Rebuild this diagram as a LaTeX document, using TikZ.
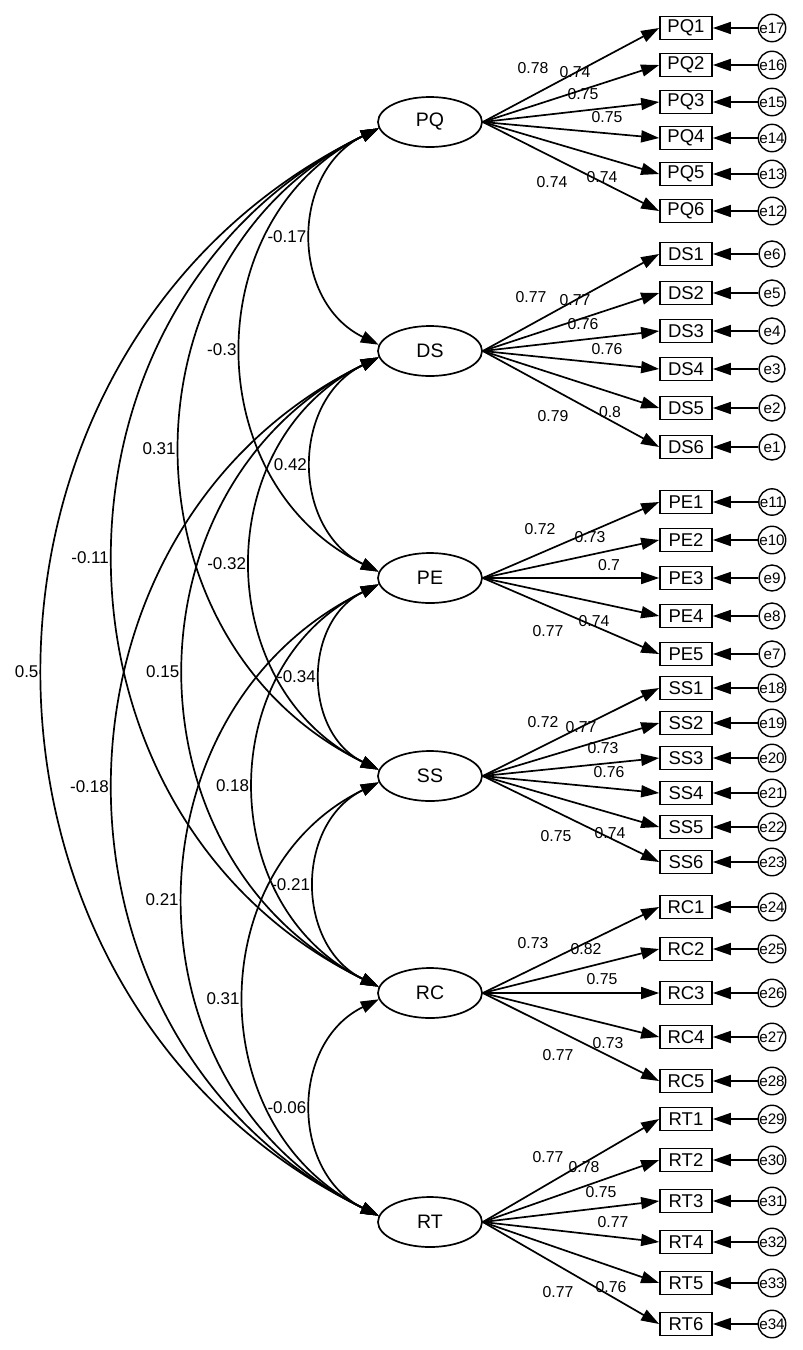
\documentclass[tikz,border=0pt]{standalone}
\usepackage{fontspec}
\setmainfont{Liberation Sans}
\usepackage{tikz}
\usetikzlibrary{arrows.meta,shapes.geometric}
\usepackage{xcolor}

\tikzset{
  lat/.style={ellipse, draw, line width=0.85pt, minimum width=52pt, minimum height=25pt, inner sep=0pt, font=\fontsize{9.75}{10}\selectfont},
  obs/.style={rectangle, draw, line width=0.85pt, minimum width=26pt, minimum height=11.5pt, inner sep=0pt, font=\fontsize{9.25}{9.5}\selectfont},
  err/.style={circle, draw, line width=0.7pt, minimum size=13pt, inner sep=0pt, font=\fontsize{7.6}{7.6}\selectfont},
  ld/.style={inner sep=0pt, font=\fontsize{7.9}{8}\selectfont},
  cl/.style={inner sep=2.5pt, font=\fontsize{8.5}{8.5}\selectfont},
  ldarr/.style={line width=0.85pt, -{Triangle[length=9pt,width=6pt]}},
  covarr/.style={line width=0.85pt, {Triangle[length=9pt,width=6pt]}-{Triangle[length=9pt,width=6pt]}},
  bow/.style={out=206, in=154, looseness=1.17}
}

\begin{document}
\begin{tikzpicture}[x=0.5pt, y=-0.5pt]
        \useasboundingbox (0,0) rectangle (803,1350);

        % latent factors
        \node[lat] (PQ) at (430,122) {PQ};
        \node[lat] (DS) at (430,351) {DS};
        \node[lat] (PE) at (430,578) {PE};
        \node[lat] (SS) at (430,776) {SS};
        \node[lat] (RC) at (430,993) {RC};
        \node[lat] (RT) at (430,1222) {RT};

        % PQ items
        \node[obs] (PQ1) at (686,28) {PQ1};
        \node[obs] (PQ2) at (686,65) {PQ2};
        \node[obs] (PQ3) at (686,102) {PQ3};
        \node[obs] (PQ4) at (686,138) {PQ4};
        \node[obs] (PQ5) at (686,174) {PQ5};
        \node[obs] (PQ6) at (686,211) {PQ6};
        \node[err] (e17) at (772,28) {e17};
        \node[err] (e16) at (772,65) {e16};
        \node[err] (e15) at (772,102) {e15};
        \node[err] (e14) at (772,138) {e14};
        \node[err] (e13) at (772,174) {e13};
        \node[err] (e12) at (772,211) {e12};

        % DS items
        \node[obs] (DS1) at (686,254) {DS1};
        \node[obs] (DS2) at (686,293) {DS2};
        \node[obs] (DS3) at (686,331) {DS3};
        \node[obs] (DS4) at (686,369) {DS4};
        \node[obs] (DS5) at (686,408) {DS5};
        \node[obs] (DS6) at (686,447) {DS6};
        \node[err] (e6) at (772,254) {e6};
        \node[err] (e5) at (772,293) {e5};
        \node[err] (e4) at (772,331) {e4};
        \node[err] (e3) at (772,369) {e3};
        \node[err] (e2) at (772,408) {e2};
        \node[err] (e1) at (772,447) {e1};

        % PE items
        \node[obs] (PE1) at (686,502) {PE1};
        \node[obs] (PE2) at (686,540) {PE2};
        \node[obs] (PE3) at (686,578) {PE3};
        \node[obs] (PE4) at (686,616) {PE4};
        \node[obs] (PE5) at (686,654) {PE5};
        \node[err] (e11) at (772,502) {e11};
        \node[err] (e10) at (772,540) {e10};
        \node[err] (e9) at (772,578) {e9};
        \node[err] (e8) at (772,616) {e8};
        \node[err] (e7) at (772,654) {e7};

        % SS items
        \node[obs] (SS1) at (686,688) {SS1};
        \node[obs] (SS2) at (686,723) {SS2};
        \node[obs] (SS3) at (686,758) {SS3};
        \node[obs] (SS4) at (686,793) {SS4};
        \node[obs] (SS5) at (686,827) {SS5};
        \node[obs] (SS6) at (686,862) {SS6};
        \node[err] (e18) at (772,688) {e18};
        \node[err] (e19) at (772,723) {e19};
        \node[err] (e20) at (772,758) {e20};
        \node[err] (e21) at (772,793) {e21};
        \node[err] (e22) at (772,827) {e22};
        \node[err] (e23) at (772,862) {e23};

        % RC items
        \node[obs] (RC1) at (686,907) {RC1};
        \node[obs] (RC2) at (686,949) {RC2};
        \node[obs] (RC3) at (686,993) {RC3};
        \node[obs] (RC4) at (686,1037) {RC4};
        \node[obs] (RC5) at (686,1081) {RC5};
        \node[err] (e24) at (772,907) {e24};
        \node[err] (e25) at (772,949) {e25};
        \node[err] (e26) at (772,993) {e26};
        \node[err] (e27) at (772,1037) {e27};
        \node[err] (e28) at (772,1081) {e28};

        % RT items
        \node[obs] (RT1) at (686,1119) {RT1};
        \node[obs] (RT2) at (686,1160) {RT2};
        \node[obs] (RT3) at (686,1201) {RT3};
        \node[obs] (RT4) at (686,1242) {RT4};
        \node[obs] (RT5) at (686,1283) {RT5};
        \node[obs] (RT6) at (686,1324) {RT6};
        \node[err] (e29) at (772,1119) {e29};
        \node[err] (e30) at (772,1160) {e30};
        \node[err] (e31) at (772,1201) {e31};
        \node[err] (e32) at (772,1242) {e32};
        \node[err] (e33) at (772,1283) {e33};
        \node[err] (e34) at (772,1324) {e34};

        % loadings
        \draw[ldarr] (PQ.east) -- (PQ1.west);
        \draw[ldarr] (PQ.east) -- (PQ2.west);
        \draw[ldarr] (PQ.east) -- (PQ3.west);
        \draw[ldarr] (PQ.east) -- (PQ4.west);
        \draw[ldarr] (PQ.east) -- (PQ5.west);
        \draw[ldarr] (PQ.east) -- (PQ6.west);
        \draw[ldarr] (DS.east) -- (DS1.west);
        \draw[ldarr] (DS.east) -- (DS2.west);
        \draw[ldarr] (DS.east) -- (DS3.west);
        \draw[ldarr] (DS.east) -- (DS4.west);
        \draw[ldarr] (DS.east) -- (DS5.west);
        \draw[ldarr] (DS.east) -- (DS6.west);
        \draw[ldarr] (PE.east) -- (PE1.west);
        \draw[ldarr] (PE.east) -- (PE2.west);
        \draw[ldarr] (PE.east) -- (PE3.west);
        \draw[ldarr] (PE.east) -- (PE4.west);
        \draw[ldarr] (PE.east) -- (PE5.west);
        \draw[ldarr] (SS.east) -- (SS1.west);
        \draw[ldarr] (SS.east) -- (SS2.west);
        \draw[ldarr] (SS.east) -- (SS3.west);
        \draw[ldarr] (SS.east) -- (SS4.west);
        \draw[ldarr] (SS.east) -- (SS5.west);
        \draw[ldarr] (SS.east) -- (SS6.west);
        \draw[ldarr] (RC.east) -- (RC1.west);
        \draw[ldarr] (RC.east) -- (RC2.west);
        \draw[ldarr] (RC.east) -- (RC3.west);
        \draw[ldarr] (RC.east) -- (RC4.west);
        \draw[ldarr] (RC.east) -- (RC5.west);
        \draw[ldarr] (RT.east) -- (RT1.west);
        \draw[ldarr] (RT.east) -- (RT2.west);
        \draw[ldarr] (RT.east) -- (RT3.west);
        \draw[ldarr] (RT.east) -- (RT4.west);
        \draw[ldarr] (RT.east) -- (RT5.west);
        \draw[ldarr] (RT.east) -- (RT6.west);

        % error terms
        \draw[ldarr] (e17) -- (PQ1);
        \draw[ldarr] (e16) -- (PQ2);
        \draw[ldarr] (e15) -- (PQ3);
        \draw[ldarr] (e14) -- (PQ4);
        \draw[ldarr] (e13) -- (PQ5);
        \draw[ldarr] (e12) -- (PQ6);
        \draw[ldarr] (e6) -- (DS1);
        \draw[ldarr] (e5) -- (DS2);
        \draw[ldarr] (e4) -- (DS3);
        \draw[ldarr] (e3) -- (DS4);
        \draw[ldarr] (e2) -- (DS5);
        \draw[ldarr] (e1) -- (DS6);
        \draw[ldarr] (e11) -- (PE1);
        \draw[ldarr] (e10) -- (PE2);
        \draw[ldarr] (e9) -- (PE3);
        \draw[ldarr] (e8) -- (PE4);
        \draw[ldarr] (e7) -- (PE5);
        \draw[ldarr] (e18) -- (SS1);
        \draw[ldarr] (e19) -- (SS2);
        \draw[ldarr] (e20) -- (SS3);
        \draw[ldarr] (e21) -- (SS4);
        \draw[ldarr] (e22) -- (SS5);
        \draw[ldarr] (e23) -- (SS6);
        \draw[ldarr] (e24) -- (RC1);
        \draw[ldarr] (e25) -- (RC2);
        \draw[ldarr] (e26) -- (RC3);
        \draw[ldarr] (e27) -- (RC4);
        \draw[ldarr] (e28) -- (RC5);
        \draw[ldarr] (e29) -- (RT1);
        \draw[ldarr] (e30) -- (RT2);
        \draw[ldarr] (e31) -- (RT3);
        \draw[ldarr] (e32) -- (RT4);
        \draw[ldarr] (e33) -- (RT5);
        \draw[ldarr] (e34) -- (RT6);

        % loading values
        \node[ld] (lPQ1) at (533,68) {0.78};
        \node[ld] (lPQ2) at (575,72) {0.74};
        \node[ld] (lPQ3) at (583,94) {0.75};
        \node[ld] (lPQ4) at (607,117) {0.75};
        \node[ld] (lPQ5) at (602,177) {0.74};
        \node[ld] (lPQ6) at (552,182) {0.74};
        \node[ld] (lDS1) at (531,297) {0.77};
        \node[ld] (lDS2) at (575,300) {0.77};
        \node[ld] (lDS3) at (583,324) {0.76};
        \node[ld] (lDS4) at (607,349) {0.76};
        \node[ld] (lDS5) at (610,412) {0.8};
        \node[ld] (lDS6) at (553,416) {0.79};
        \node[ld] (lPE1) at (540,529) {0.72};
        \node[ld] (lPE2) at (590,537) {0.73};
        \node[ld] (lPE3) at (609,565) {0.7};
        \node[ld] (lPE4) at (594,621) {0.74};
        \node[ld] (lPE5) at (548,631) {0.77};
        \node[ld] (lSS1) at (543,722) {0.72};
        \node[ld] (lSS2) at (581,727) {0.77};
        \node[ld] (lSS3) at (603,748) {0.73};
        \node[ld] (lSS4) at (609,772) {0.76};
        \node[ld] (lSS5) at (610,833) {0.74};
        \node[ld] (lSS6) at (556,836) {0.75};
        \node[ld] (lRC1) at (533,943) {0.73};
        \node[ld] (lRC2) at (586,949) {0.82};
        \node[ld] (lRC3) at (602,979) {0.75};
        \node[ld] (lRC4) at (608,1043) {0.73};
        \node[ld] (lRC5) at (558,1055) {0.77};
        \node[ld] (lRT1) at (548,1157) {0.77};
        \node[ld] (lRT2) at (584,1167) {0.78};
        \node[ld] (lRT3) at (601,1192) {0.75};
        \node[ld] (lRT4) at (613,1222) {0.77};
        \node[ld] (lRT5) at (611,1287) {0.76};
        \node[ld] (lRT6) at (558,1292) {0.77};

        % covariances
        \draw[covarr] (PQ.187) to[bow] node[cl,midway,left] (cPQDS) {-0.17} (DS.173);
        \draw[covarr] (PQ.187) to[bow] node[cl,midway,left] (cPQPE) {-0.3} (PE.173);
        \draw[covarr] (PQ.187) to[bow] node[cl,midway,left] (cPQSS) {0.31} (SS.173);
        \draw[covarr] (PQ.187) to[bow] node[cl,midway,left] (cPQRC) {-0.11} (RC.173);
        \draw[covarr] (PQ.187) to[bow] node[cl,midway,left] (cPQRT) {0.5} (RT.173);
        \draw[covarr] (DS.187) to[bow] node[cl,midway,left] (cDSPE) {0.42} (PE.173);
        \draw[covarr] (DS.187) to[bow] node[cl,midway,left] (cDSSS) {-0.32} (SS.173);
        \draw[covarr] (DS.187) to[bow] node[cl,midway,left] (cDSRC) {0.15} (RC.173);
        \draw[covarr] (DS.187) to[bow] node[cl,midway,left] (cDSRT) {-0.18} (RT.173);
        \draw[covarr] (PE.187) to[bow] node[cl,midway,left] (cPESS) {-0.34} (SS.173);
        \draw[covarr] (PE.187) to[bow] node[cl,midway,left] (cPERC) {0.18} (RC.173);
        \draw[covarr] (PE.187) to[bow] node[cl,midway,left] (cPERT) {0.21} (RT.173);
        \draw[covarr] (SS.187) to[bow] node[cl,midway,left] (cSSRC) {-0.21} (RC.173);
        \draw[covarr] (SS.187) to[bow] node[cl,midway,left] (cSSRT) {0.31} (RT.173);
        \draw[covarr] (RC.187) to[bow] node[cl,midway,left] (cRCRT) {-0.06} (RT.173);
\end{tikzpicture}
\end{document}
